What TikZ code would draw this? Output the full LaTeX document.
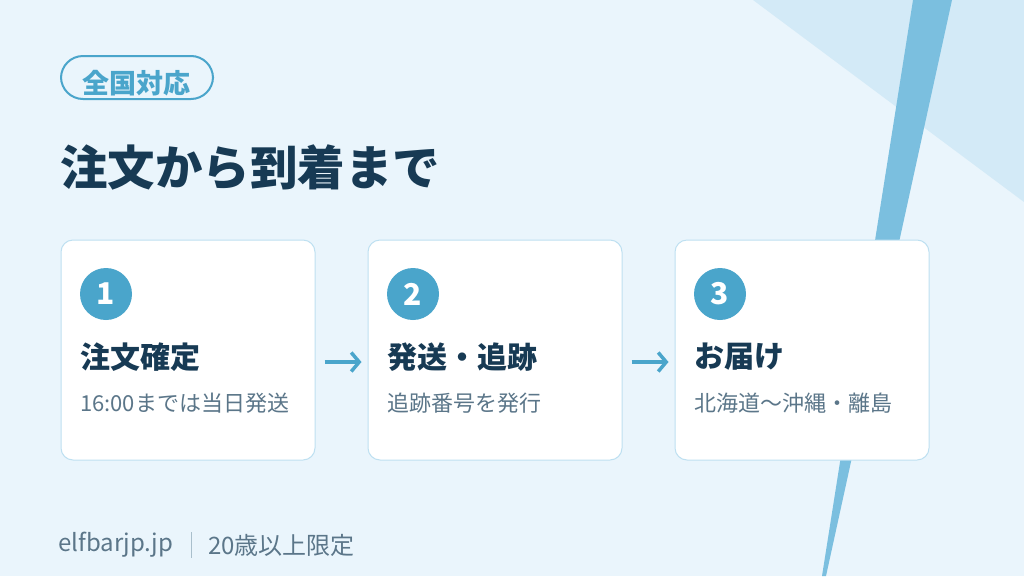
\documentclass[tikz,border=0pt]{standalone}
\usepackage{fontspec}
\setmainfont{Noto Sans CJK JP}
\usetikzlibrary{arrows.meta}
\definecolor{bg}{HTML}{EAF5FC}
\definecolor{tri}{HTML}{D3EAF7}
\definecolor{stripe}{HTML}{7BBFDF}
\definecolor{accent}{HTML}{4AA5CB}
\definecolor{navy}{HTML}{173A54}
\definecolor{graytxt}{HTML}{5B7689}
\definecolor{cardline}{HTML}{BEE0F1}
\definecolor{sepline}{HTML}{A9BFCC}
\tikzset{
  card/.style={draw=cardline, line width=1pt, fill=white, rounded corners=12pt,
    minimum width=254pt, minimum height=220pt, inner sep=0pt},
  numcirc/.style={circle, fill=accent, minimum size=52pt, inner sep=0pt,
    text=white, font=\bfseries\fontsize{30}{32}\selectfont},
  headtxt/.style={anchor=west, inner sep=0pt, text=navy, font=\bfseries\fontsize{30}{34}\selectfont},
  subtxt/.style={anchor=west, inner sep=0pt, text=graytxt, font=\fontsize{22}{26}\selectfont},
  flowarrow/.style={draw=accent, line width=3.5pt, -{Straight Barb[length=8pt,width=19pt]}},
  foottxt/.style={anchor=west, inner sep=0pt, text=graytxt, font=\fontsize{24}{28}\selectfont},
}
\begin{document}
\begin{tikzpicture}[x=1pt,y=-1pt]
\fill[bg] (0,0) rectangle (1024,576);
\useasboundingbox (0,0) rectangle (1024,576);
\fill[tri] (753,0) -- (1024,0) -- (1024,202) -- cycle;
\fill[stripe] (913,0) -- (952,0) -- (826,576) -- (822,576) -- cycle;

% badge
\node[draw=accent, line width=2pt, rounded corners=22pt, minimum width=152pt,
  minimum height=43pt, inner sep=0pt] (badge) at (137,77.5) {};
\node[inner sep=0pt, text=accent, font=\bfseries\fontsize{27}{30}\selectfont] (badgetxt) at (136,83) {全国対応};

% title
\node[anchor=west, inner sep=0pt, text=navy, font=\bfseries\fontsize{47.5}{52}\selectfont] (title) at (60,167) {注文から到着まで};

% cards
\node[card] (c1) at (188,350) {};
\node[card] (c2) at (495,350) {};
\node[card] (c3) at (802,350) {};

\node[numcirc] (n1) at (106,294) {1};
\node[numcirc] (n2) at (413,294) {2};
\node[numcirc] (n3) at (720,294) {3};

\node[headtxt] (h1) at (80,357) {注文確定};
\node[headtxt] (h2) at (387,357) {発送・追跡};
\node[headtxt] (h3) at (694,357) {お届け};

\node[subtxt] (s1) at (80,403) {16:00までは当日発送};
\node[subtxt] (s2) at (387,403) {追跡番号を発行};
\node[subtxt] (s3) at (694,403) {北海道〜沖縄・離島};

\draw[flowarrow] ([xshift=9pt,yshift=-12pt]c1.east) -- ([xshift=-6pt,yshift=-12pt]c2.west);
\draw[flowarrow] ([xshift=9pt,yshift=-12pt]c2.east) -- ([xshift=-6pt,yshift=-12pt]c3.west);

% footer
\node[foottxt] (f1) at (58,545) {elfbarjp.jp};
\coordinate (sepa) at (191,532);
\coordinate (sepb) at (191,558);
\draw[sepline, line width=1pt] (sepa) -- (sepb);
\node[foottxt] (f2) at (208,545) {20歳以上限定};
\end{tikzpicture}
\end{document}
